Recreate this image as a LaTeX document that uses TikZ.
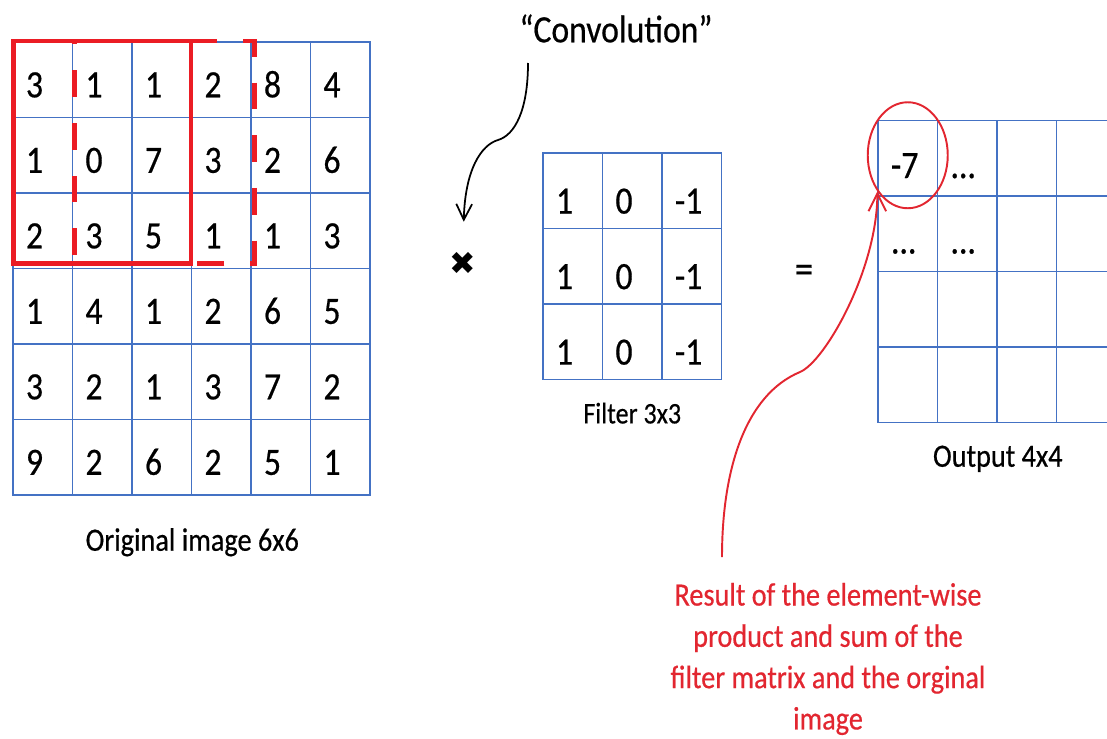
\documentclass[tikz,border=0pt]{standalone}
\usepackage{fontspec}
\usepackage{tikz}
\usetikzlibrary{positioning,arrows.meta,shapes.geometric}
\setmainfont[FakeStretch=0.87,FakeBold=0.5]{Carlito}
\newfontfamily\symbolfont{DejaVu Sans}
\definecolor{gridblue}{RGB}{68,114,196}
\definecolor{boxred}{RGB}{235,28,36}
\definecolor{notered}{RGB}{226,38,48}
\newcommand{\cellfont}{\fontsize{22}{26}\selectfont}
\newcommand{\labelfont}{\fontsize{18.5}{22}\selectfont}
\newcommand{\etcdots}{...}

\begin{document}
\begin{tikzpicture}[
  cell/.style={draw=gridblue, line width=0.9pt, minimum width=1.19cm, minimum height=1.51cm,
    inner xsep=0.26cm, inner ysep=1pt, text width=0.67cm, align=left, text depth=0pt, font=\cellfont},
  winbox/.style={draw=boxred, line width=2.6pt},
  winnext/.style={winbox, dash pattern=on 15.3pt off 14.7pt, dash phase=24pt},
  gridlabel/.style={font=\labelfont, inner sep=0pt},
  notetext/.style={font=\fontsize{18.5}{23.5}\selectfont, text=notered, align=center, inner sep=0pt},
  convarrow/.style={-{Straight Barb[length=9pt,width=9pt]}, line width=1pt},
  notearrow/.style={-{Straight Barb[length=10pt,width=10pt]}, draw=notered, line width=1.1pt}
]
\useasboundingbox (0,0) rectangle (22.14,-14.78);
\clip (0,0) rectangle (22.14,-14.78);

\foreach \vals [count=\row] in {{3,1,1,2,8,4},{1,0,7,3,2,6},{2,3,5,1,1,3},{1,4,1,2,6,5},{3,2,1,3,7,2},{9,2,6,2,5,1}}
  \foreach \v [count=\col] in \vals
    \node[cell, text height=20pt] (o-\row-\col) at ({0.26+1.19*(\col-0.5)},{-0.84-1.51*(\row-0.5)}) {\v};

\foreach \vals [count=\row] in {{1,0,-1},{1,0,-1},{1,0,-1}}
  \foreach \v [count=\col] in \vals
    \node[cell, text height=26pt] (f-\row-\col) at ({10.86+1.19*(\col-0.5)},{-3.06-1.51*(\row-0.5)}) {\v};

\foreach \vals [count=\row] in {{-7,\etcdots,{},{}},{\etcdots,\etcdots,{},{}},{{},{},{},{}},{{},{},{},{}}}
  \foreach \v [count=\col] in \vals
    \node[cell, text height=22.5pt] (y-\row-\col) at ({17.56+1.19*(\col-0.5)},{-2.41-1.51*(\row-0.5)}) {\v};

\coordinate (dashnw) at ([xshift=1.5pt]o-1-2.north west);
\coordinate (dashse) at ([xshift=1.5pt,yshift=3.4pt]o-3-4.south east);
\draw[winnext] (dashnw) -- (dashnw -| dashse) -- (dashse) -- (dashse -| dashnw) -- cycle;
\draw[winbox] ([xshift=0.8pt]o-1-1.north west) rectangle ([xshift=-0.8pt,yshift=3.4pt]o-3-3.south east);

\node[gridlabel, below=0.64cm of o-6-3.south east] (origlabel) {Original image 6x6};
\node[gridlabel, font=\fontsize{17}{20}\selectfont, below=0.44cm of f-3-2.south] (filterlabel) {Filter 3x3};
\node[gridlabel, below=0.44cm of y-4-2.south east] (outlabel) {Output 4x4};

\node[font=\fontsize{22}{26}\selectfont, inner sep=0pt] (conv) at (12.32,-0.57) {“Convolution”};
\node[font=\symbolfont\fontsize{18}{18}\selectfont, inner sep=0pt] (times) at (9.26,-5.26) {✖};
\node[font=\fontsize{24}{24}\selectfont, inner sep=0pt] (equals) at (16.08,-5.48) {=};
\node[ellipse, draw=notered, line width=1.1pt, minimum width=1.6cm, minimum height=2.12cm, inner sep=0pt] (ring) at ([yshift=0.06cm]y-1-1) {};
\node[notetext] (note) at (16.56,-13.18) {Result of the element-wise\\product and sum of the\\filter matrix and the orginal\\image};

\coordinate (convtail) at (10.56,-1.26);
\coordinate (notetail) at (14.44,-11.14);
\draw[convarrow, shorten >=17pt] (convtail) .. controls (10.56,-2.20) and (10.30,-2.70) .. (9.96,-2.80) .. controls (9.62,-2.90) and (9.30,-3.40) .. (times.north);
\draw[notearrow] (notetail) .. controls (14.44,-9.40) and (14.90,-7.90) .. (16.00,-7.44) .. controls (16.50,-7.23) and (17.54,-5.40) .. (ring.230);
\end{tikzpicture}
\end{document}
